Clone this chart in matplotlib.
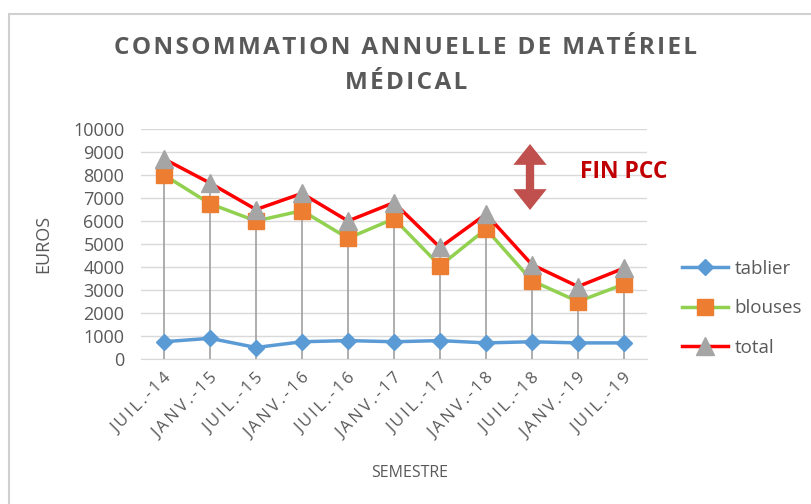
import matplotlib.pyplot as plt
from matplotlib.patches import Rectangle, FancyArrowPatch

semestres = ["JUIL.-14", "JANV.-15", "JUIL.-15", "JANV.-16", "JUIL.-16", "JANV.-17",
             "JUIL.-17", "JANV.-18", "JUIL.-18", "JANV.-19", "JUIL.-19"]
tablier = [750, 900, 500, 750, 800, 750, 800, 700, 750, 700, 700]
blouses = [8000, 6750, 6000, 6450, 5250, 6100, 4050, 5650, 3400, 2500, 3250]
total = [8700, 7650, 6500, 7200, 6000, 6800, 4850, 6300, 4100, 3150, 3950]

plt.rcParams["font.family"] = ["Open Sans", "DejaVu Sans"]
grey = "#595959"


def spaced(s, sep="\u200a"):
    # mimic the letter spacing of the original text
    return sep.join(s)


fig = plt.figure(figsize=(8.12, 5.04), dpi=100)
# chart frame with a faint shadow
fig.patches.append(Rectangle((12 / 812, -0.02), 1.0, 1 - 18 / 504 + 0.02, transform=fig.transFigure,
                             fc="#e4e4e4", ec="none", zorder=-10))
fig.patches.append(Rectangle((9 / 812, -0.02), 1.0, 1 - 14 / 504 + 0.02, transform=fig.transFigure,
                             fc="white", ec="#d0d0d0", lw=1.5, zorder=-9))

ax = fig.add_axes([141 / 812, (504 - 359) / 504, 506 / 812, 230 / 504])
ax.set_facecolor("none")
x = list(range(len(semestres)))

ax.vlines(x, 0, total, color="#a0a0a0", lw=1.2, zorder=2)
ax.plot(x, tablier, color="#5B9BD5", lw=2.5, marker="D", ms=8.5, mfc="#5B9BD5",
        mec="#5B9BD5", label="tablier", zorder=3)
ax.plot(x, blouses, color="#92D050", lw=2.5, marker="s", ms=11, mfc="#ED7D31",
        mec="#ED7D31", label="blouses", zorder=3)
ax.plot(x, total, color="#FF0000", lw=2.5, marker="^", ms=13, mfc="#A5A5A5",
        mec="#A5A5A5", label="total", zorder=4)

ax.set_xlim(-0.5, len(semestres) - 0.5)
ax.set_ylim(0, 10000)
ax.set_yticks(range(0, 10001, 1000))
ax.grid(axis="y", color="#d9d9d9", lw=1)
ax.set_axisbelow(True)
for s in ["top", "right", "left"]:
    ax.spines[s].set_visible(False)
ax.spines["bottom"].set_color("#d9d9d9")
ax.tick_params(length=0, colors=grey)
ax.tick_params(axis="y", labelsize=13, pad=12)
ax.set_xticks(x)
ax.set_xticklabels([spaced(s, "\u2009") for s in semestres], rotation=45, ha="right",
                   rotation_mode="anchor", fontsize=12)
ax.tick_params(axis="x", pad=8)
ax.set_ylabel("EUROS", color=grey, fontsize=13)
ax.yaxis.set_label_coords(-0.176, 0.50)
ax.set_xlabel("SEMESTRE", color=grey, fontsize=11.5)
ax.xaxis.set_label_coords(0.53, -0.46)

fig.text(0.5, 1 - 48 / 504, spaced("CONSOMMATION ANNUELLE DE MATÉRIEL"),
         ha="center", va="center", fontsize=17.5, color=grey, fontweight="bold")
fig.text(0.5, 1 - 83 / 504, spaced("MÉDICAL"), ha="center", va="center",
         fontsize=17.5, color=grey, fontweight="bold")

# annotation: double arrow made of two arrows pointing outwards
mid = 1 - 177 / 504
for end in (1 - 144 / 504, 1 - 210 / 504):
    fig.patches.append(FancyArrowPatch(
        (530 / 812, mid), (530 / 812, end), transform=fig.transFigure,
        arrowstyle="simple,head_length=0.75,head_width=1.2,tail_width=0.3",
        color="#C0504D", lw=0, mutation_scale=20, shrinkA=0, shrinkB=0))
fig.text(580 / 812, 1 - 172 / 504, "FIN PCC", ha="left", va="center",
         fontsize=16.5, fontweight="bold", color="#C00000")

ax.legend(loc="center left", bbox_to_anchor=(1.069, 0.22), frameon=False,
          fontsize=13.5, labelcolor=grey, handlelength=2.45, handletextpad=0.35,
          labelspacing=1.15, borderpad=0, borderaxespad=0)

fig.savefig("out.png", dpi=100)
